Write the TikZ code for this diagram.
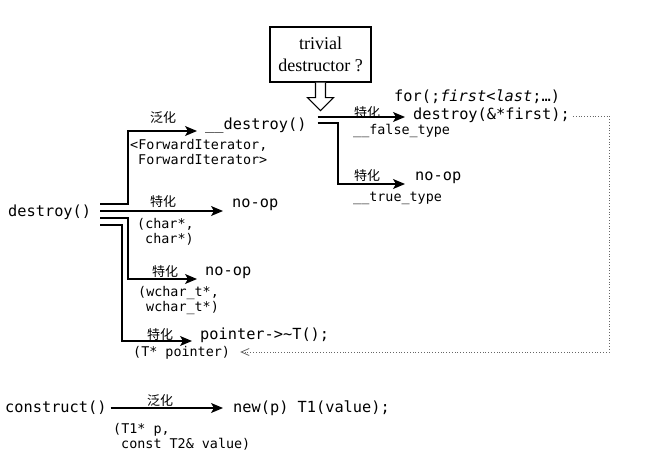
\documentclass[tikz,border=0pt]{standalone}
\usepackage{fontspec}
\setmainfont{Liberation Serif}
\setmonofont{DejaVu Sans Mono}
\newfontfamily\cjk{Noto Sans CJK SC}
\usetikzlibrary{arrows.meta,calc}
\tikzset{
  code/.style={font=\ttfamily\fontsize{15.3}{18}\selectfont, inner sep=0pt, anchor=west},
  small/.style={font=\ttfamily\fontsize{13.4}{15.5}\selectfont, inner sep=0pt, anchor=west, align=left},
  lab/.style={font=\cjk\fontsize{13}{15}\selectfont, inner sep=0pt},
  arr/.style={-{Stealth[length=12pt,width=10pt,inset=3pt]}, line width=1.2pt},
  link/.style={line width=1.2pt},
  dotlink/.style={dotted, line width=0.8pt, draw=black!60, -{Straight Barb[length=8pt,width=7pt]}},
  qbox/.style={draw, line width=1.2pt, minimum width=101pt, minimum height=55pt, align=center,
    font=\fontsize{18}{22}\selectfont, inner sep=0pt}
}
\begin{document}
\begin{tikzpicture}[x=1pt,y=-1pt]
\useasboundingbox (0,0) rectangle (646,467);

% question box
\node[qbox] (q) at (320.5,54.5) {trivial\\destructor ?};

% main nodes
\node[code] (destroy) at (8,212) {destroy()};
\node[code] (dd) at (205,125) {\_\_destroy()};
\node[code] (noop1) at (232,205) {no-op};
\node[code] (noop2) at (205,273) {no-op};
\node[code] (ptr) at (200,335) {pointer->\textasciitilde T();};
\node[code] (for) at (394,97) {for(;\textit{first<last};…)};
\node[code] (dfirst) at (413,115) {destroy(\&*first);};
\node[code] (noop3) at (415,178) {no-op};
\node[code] (construct) at (5,408) {construct()};
\node[code] (newp) at (233,408) {new(p) T1(value);};

% small argument texts
\node[small] (fwd) at (130,152) {<ForwardIterator,\\\hspace*{0.6em}ForwardIterator>};
\node[small] (chr) at (137,232) {(char*,\\\hspace*{0.6em}char*)};
\node[small] (wchr) at (138,300.5) {(wchar\_t*,\\\hspace*{0.6em}wchar\_t*)};
\node[small] (tp) at (133,353) {(T* pointer)};
\node[small] (t1p) at (113,437) {(T1* p,\\\hspace*{0.6em}const T2\& value)};
\node[small] (false) at (353,131) {\_\_false\_type};
\node[small] (true) at (353,198) {\_\_true\_type};

% labels
\node[lab] (g1) at (163,118) {泛化};
\node[lab] (s1) at (163,202) {特化};
\node[lab] (s2) at (165,272) {特化};
\node[lab] (s3) at (160,335) {特化};
\node[lab] (g2) at (160,401) {泛化};
\node[lab] (s4) at (367,113) {特化};
\node[lab] (s5) at (367,176) {特化};

% hollow arrow from question box
\draw[line width=1.1pt, fill=white, line join=miter]
  ([shift={(-5,0)}]q.south) -- ++(0,15) -- ++(-8,0) -- ([shift={(0,28)}]q.south)
  -- ([shift={(13,15)}]q.south) -- ++(-8,0) -- ([shift={(5,0)}]q.south);

% branches from destroy()
\draw[arr] ([shift={(9,-8)}]destroy.east) -| ([shift={(-77,6)}]dd.west) -- ([shift={(-8,6)}]dd.west);
\draw[arr] ([shift={(9,-1)}]destroy.east) -- ([shift={(-9,6)}]noop1.west);
\draw[arr] ([shift={(9,6)}]destroy.east) -| ([shift={(-77,6)}]noop2.west) -- ([shift={(-8,6)}]noop2.west);
\draw[arr] ([shift={(9,13)}]destroy.east) -| ([shift={(-78,6)}]ptr.west) -- ([shift={(-8,6)}]ptr.west);

% branches from __destroy()
\draw[arr] ([shift={(11,-8)}]dd.east) -- ([shift={(-8,2)}]dfirst.west);
\draw[arr] ([shift={(11,-2)}]dd.east) -| ([shift={(-77,6)}]noop3.west) -- ([shift={(-10,6)}]noop3.west);

% construct
\draw[arr] ([shift={(4,0)}]construct.east) -- ([shift={(-10,0)}]newp.west);

% dotted loop back
\draw[dotlink] ([shift={(3,1)}]dfirst.east) -- ++(36,0) |- ([shift={(10,-1)}]tp.east);
\end{tikzpicture}
\end{document}
